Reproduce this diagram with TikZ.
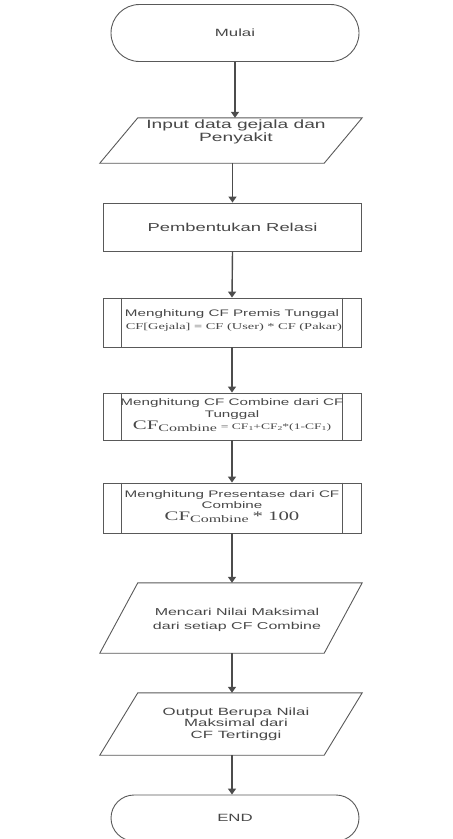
\documentclass[tikz,border=0pt]{standalone}
\usepackage{fontspec}
\setmainfont{Liberation Sans}[FakeStretch=1.6]
\newfontfamily\formfont{Liberation Serif}[FakeStretch=1.6]
\usetikzlibrary{arrows.meta,shapes.misc,calc}

% lowered index for the CF formulas
\newcommand{\lowidx}[2]{\raisebox{-0.45ex}{\fontsize{#1}{#1}\selectfont #2}}
\newcommand{\fsz}[2]{\fontsize{#1}{#2}\selectfont}

\tikzset{
  outline/.style={draw=black!65, line width=0.9pt},
  term/.style={outline, rounded rectangle, minimum width=248, minimum height=57, inner sep=0pt},
  procbox/.style={outline, rectangle, minimum width=258, minimum height=48, inner sep=0pt},
  iobox/.style={rectangle, minimum width=262, inner sep=0pt},
  lbl/.style={align=center, inner sep=0pt, text=black!72},
  flow/.style={draw=black!70, line width=1.4pt, -{Triangle[length=6pt,width=8pt]}},
}

\begin{document}
\begin{tikzpicture}[x=1pt,y=-1pt]
  \useasboundingbox (0,0) rectangle (453,839);

  % start terminator
  \node[term] (mulai) at (235,33) {};
  \node[lbl, font=\fsz{10.5}{12}] at (mulai) {Mulai};

  % input data
  \node[iobox, minimum height=45] (input) at (231,140.5) {};
  \draw[outline] (input.south west) -- ($(input.north west)+(38,0)$)
    -- (input.north east) -- ($(input.south east)+(-38,0)$) -- cycle;
  \node[lbl, font=\fsz{12}{13}] at ($(input.center)+(5,-9)$) {Input data gejala dan\\Penyakit};

  % relation building
  \node[procbox] (relasi) at (232.5,227) {};
  \node[lbl, font=\fsz{11.5}{13}] at (relasi) {Pembentukan Relasi};

  % predefined process: single premise CF
  \node[procbox, minimum height=49] (premis) at (232,322.5) {};
  \draw[outline] ([xshift=19]premis.north west) -- ([xshift=19]premis.south west);
  \draw[outline] ([xshift=-19]premis.north east) -- ([xshift=-19]premis.south east);
  \node[lbl, font=\fsz{9.5}{12.5}] at ($(premis.center)+(0,-2)$)
    {Menghitung CF Premis Tunggal\\{\formfont\fsz{9}{10} CF[Gejala] = CF (User) * CF (Pakar)}};

  % predefined process: combined CF
  \node[procbox, minimum height=47] (combine) at (232,416.5) {};
  \draw[outline] ([xshift=19]combine.north west) -- ([xshift=19]combine.south west);
  \draw[outline] ([xshift=-19]combine.north east) -- ([xshift=-19]combine.south east);
  \node[lbl, font=\fsz{9.5}{11.5}] at ($(combine.center)+(0,-1.5)$)
    {Menghitung CF Combine dari CF\\Tunggal\\[0.5pt]
     {\formfont{\fsz{13}{13}CF}\lowidx{10}{Combine} {\fsz{8.5}{9}= CF\lowidx{6}{1}+CF\lowidx{6}{2}*(1-CF\lowidx{6}{1})}}};

  % predefined process: percentage
  \node[procbox, minimum height=50] (persen) at (232,508) {};
  \draw[outline] ([xshift=19]persen.north west) -- ([xshift=19]persen.south west);
  \draw[outline] ([xshift=-19]persen.north east) -- ([xshift=-19]persen.south east);
  \node[lbl, font=\fsz{9.5}{11.5}] at ($(persen.center)+(0,-1.5)$)
    {Menghitung Presentase dari CF\\Combine\\[0.5pt]
     {\formfont{\fsz{13}{13}CF}\lowidx{10}{Combine} {\fsz{13}{13}* 100}}};

  % maximum search
  \node[iobox, minimum height=70] (maks) at (231,618) {};
  \draw[outline] (maks.south west) -- ($(maks.north west)+(38,0)$)
    -- (maks.north east) -- ($(maks.south east)+(-38,0)$) -- cycle;
  \node[lbl, font=\fsz{10}{14}] at ($(maks.center)+(6,2)$) {Mencari Nilai Maksimal\\dari setiap CF Combine};

  % output
  \node[iobox, minimum height=62] (output) at (231,724) {};
  \draw[outline] (output.south west) -- ($(output.north west)+(38,0)$)
    -- (output.north east) -- ($(output.south east)+(-38,0)$) -- cycle;
  \node[lbl, font=\fsz{10.5}{11.5}] at ($(output.center)+(5,0)$)
    {Output Berupa Nilai\\Maksimal dari\\CF Tertinggi};

  % end terminator
  \node[term, minimum height=46] (akhir) at (235,818) {};
  \node[lbl, font=\fsz{10.5}{12}] at (akhir) {END};

  % flow connectors
  \draw[flow] (mulai.south) -- (mulai.south |- input.north);
  \draw[flow] (input.south -| relasi.north) -- (relasi.north);
  \draw[flow] (relasi.south) -- (premis.north);
  \draw[flow] (premis.south) -- (combine.north);
  \draw[flow] (combine.south) -- (persen.north);
  \draw[flow] (persen.south) -- (persen.south |- maks.north);
  \draw[flow] (persen.south |- maks.south) -- (persen.south |- output.north);
  \draw[flow] (persen.south |- output.south) -- (persen.south |- akhir.north);
\end{tikzpicture}
\end{document}
